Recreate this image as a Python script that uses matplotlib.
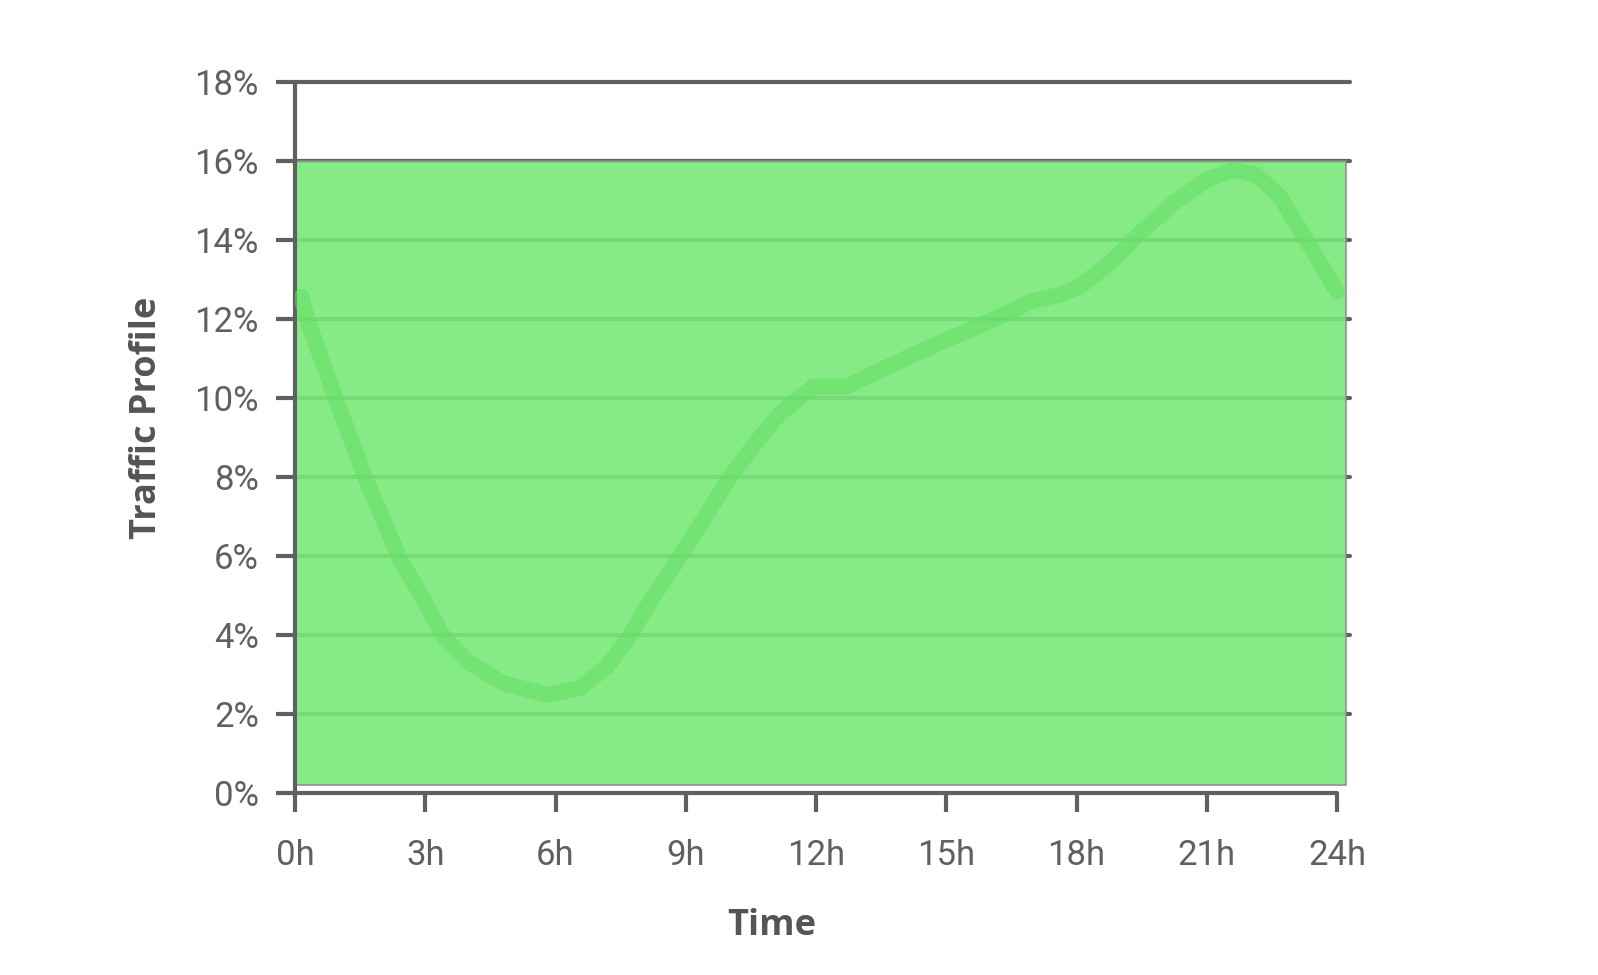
import matplotlib
matplotlib.use('Agg')
import matplotlib.pyplot as plt
from matplotlib.patches import Rectangle

########################################################################################################################
## data
########################################################################################################################
hours = [0.15, 0.27, 0.92, 1.61, 2.42, 2.88, 3.42, 4.03, 4.80, 5.80, 6.56, 7.18, 7.64, 8.25, 8.71, 9.45,
         10.02, 10.6, 11.17, 11.94, 12.71, 13.32, 14.47, 15.62, 16.39, 16.93, 17.62, 18.08, 18.8, 19.46,
         20.23, 21.0, 21.61, 22.15, 22.68, 23.15, 23.61, 24.0]
traffic = [12.56, 12.02, 10.03, 8.01, 5.90, 5.06, 3.96, 3.29, 2.78, 2.49, 2.66, 3.20, 3.88, 4.97, 5.73, 7.0,
           8.0, 8.85, 9.61, 10.29, 10.29, 10.62, 11.21, 11.76, 12.14, 12.44, 12.61, 12.82, 13.45, 14.17,
           14.93, 15.52, 15.77, 15.64, 15.09, 14.25, 13.41, 12.69]

# shaded band
band_x = [0, 24.2]
band_y = [0.2, 16]

x_ticks = [0, 3, 6, 9, 12, 15, 18, 21, 24]
x_labels = ['0h', '3h', '6h', '9h', '12h', '15h', '18h', '21h', '24h']
y_ticks = [0, 2, 4, 6, 8, 10, 12, 14, 16, 18]
y_labels = ['0%', '2%', '4%', '6%', '8%', '10%', '12%', '14%', '16%', '18%']

########################################################################################################################
axis_col = '#606060'
text_col = '#606060'

fig = plt.figure(figsize=(15.98, 9.75), dpi=100, facecolor='w')
ax = fig.add_axes([0.1846, 0.1864, 0.6603, 0.7298])
ax.set_xlim(0, 24.3)
ax.set_ylim(0, 18)

# grid lines, behind the band
for yv in y_ticks[1:]:
    ax.axhline(yv, color=axis_col, lw=3, zorder=1, clip_on=False, solid_capstyle='round')

ax.add_patch(Rectangle((band_x[0], band_y[0]), band_x[1] - band_x[0], band_y[1] - band_y[0],
                       facecolor=(121/255, 233/255, 121/255), alpha=0.9, edgecolor='#8a8a8a', lw=1.2, zorder=2))

ax.plot(hours, traffic, color=(100/255, 222/255, 100/255), alpha=0.55, lw=11.5,
        solid_capstyle='round', solid_joinstyle='round', zorder=3)

for side in ['top', 'right']:
    ax.spines[side].set_visible(False)
for side in ['left', 'bottom']:
    ax.spines[side].set_color(axis_col)
    ax.spines[side].set_linewidth(3)
    ax.spines[side].set_capstyle('round')
ax.spines['bottom'].set_bounds(0, 24)
ax.spines['left'].set_bounds(0, 18)

ax.set_xticks(x_ticks)
ax.set_xticklabels(x_labels)
ax.set_yticks(y_ticks)
ax.set_yticklabels(y_labels)
ax.tick_params(axis='both', length=14, width=3, color=axis_col, labelcolor=text_col, labelsize=25)
ax.tick_params(axis='x', pad=19)
ax.tick_params(axis='y', pad=12)
for lab in ax.get_xticklabels() + ax.get_yticklabels():
    lab.set_family(['Roboto', 'DejaVu Sans'])
    lab.set_fontweight('normal')

fig.text(772 / 1598, 1 - 926 / 975, 'Time', ha='center', va='center', fontsize=26,
         fontweight='bold', color='#555555', family=['Open Sans', 'DejaVu Sans'])
fig.text(147 / 1598, 1 - 418 / 975, 'Traffic Profile', ha='center', va='center', rotation=90, fontsize=26,
         fontweight='bold', color='#555555', family=['Open Sans', 'DejaVu Sans'])

plt.savefig('out.png', dpi=100, facecolor='w')
